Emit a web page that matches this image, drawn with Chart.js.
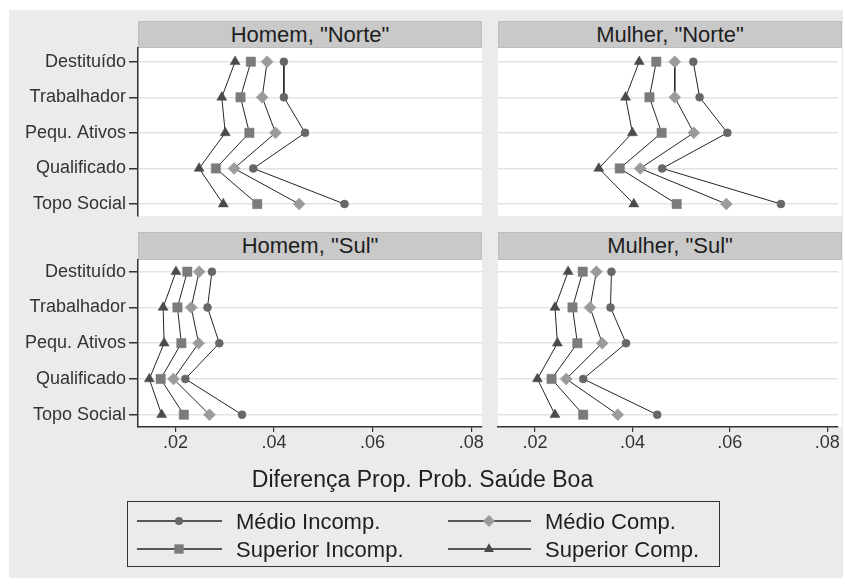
<!DOCTYPE html>
<html>
<head>
<meta charset="utf-8">
<script src="https://cdn.jsdelivr.net/npm/chart.js@4/dist/chart.umd.min.js"></script>
<style>
  body { margin: 0; width: 845px; height: 585px; background: #fff; position: relative; overflow: hidden;
         font-family: 'Liberation Sans', Arial, sans-serif; color: #222; }
  .abs { position: absolute; }
  #page { left: 9px; top: 10px; width: 834px; height: 568px; background: #ebebeb; }
  .plot { background: #fff; }
  .strip { background: #c9c9c9; border: 1px solid #bdbdbd; box-sizing: border-box;
           font-size: 22px; text-align: center; line-height: 25px; color: #1e1e1e; }
  canvas.layer { position: absolute; left: 0; top: 0; }
  #xtitle { left: 0; width: 845px; top: 466px; text-align: center; font-size: 23px; color: #1e1e1e; }
  #legend { left: 127px; top: 501px; width: 593px; height: 66px; border: 1px solid #333; box-sizing: border-box; }
  .lg { font-size: 22px; color: #1e1e1e; line-height: 26px; white-space: nowrap; }
</style>
</head>
<body>
<div id="page" class="abs"></div>

<div class="abs plot" style="left:138px;top:48px;width:344px;height:168px"></div>
<div class="abs plot" style="left:498px;top:48px;width:344px;height:168px"></div>
<div class="abs plot" style="left:138px;top:260px;width:344px;height:167px"></div>
<div class="abs plot" style="left:498px;top:260px;width:344px;height:167px"></div>

<div id="h0" class="abs strip" style="left:138px;top:21px;width:344px;height:27px"></div>
<div id="h1" class="abs strip" style="left:498px;top:21px;width:344px;height:27px"></div>
<div id="h2" class="abs strip" style="left:138px;top:232px;width:344px;height:28px"></div>
<div id="h3" class="abs strip" style="left:498px;top:232px;width:344px;height:28px"></div>

<canvas id="c0" class="layer" width="845" height="585"></canvas>
<canvas id="c1" class="layer" width="845" height="585"></canvas>
<canvas id="c2" class="layer" width="845" height="585"></canvas>
<canvas id="c3" class="layer" width="845" height="585"></canvas>

<div id="xtitle" class="abs">Diferença Prop. Prob. Saúde Boa</div>

<div id="legend" class="abs">
  <canvas id="lgc" width="593" height="66" style="position:absolute;left:-1px;top:-1px"></canvas>
  <span class="abs lg" id="lg0" style="left:108px;top:7px"></span>
  <span class="abs lg" id="lg1" style="left:417px;top:7px"></span>
  <span class="abs lg" id="lg2" style="left:108px;top:35px"></span>
  <span class="abs lg" id="lg3" style="left:417px;top:35px"></span>
</div>

<script>
const categories = ['Destituído', 'Trabalhador', 'Pequ. Ativos', 'Qualificado', 'Topo Social'];
const panelTitles = ['Homem, "Norte"', 'Mulher, "Norte"', 'Homem, "Sul"', 'Mulher, "Sul"'];
const seriesNames = ['Médio Incomp.', 'Médio Comp.', 'Superior Incomp.', 'Superior Comp.'];
const xTicks = [0.02, 0.04, 0.06, 0.08];

// Homem, "Norte"
const hnMedioIncomp    = [0.0420, 0.0420, 0.0463, 0.0358, 0.0543];
const hnMedioComp      = [0.0386, 0.0376, 0.0403, 0.0319, 0.0451];
const hnSuperiorIncomp = [0.0353, 0.0332, 0.0350, 0.0282, 0.0366];
const hnSuperiorComp   = [0.0321, 0.0294, 0.0301, 0.0248, 0.0297];
// Mulher, "Norte"
const mnMedioIncomp    = [0.0525, 0.0538, 0.0595, 0.0461, 0.0705];
const mnMedioComp      = [0.0487, 0.0487, 0.0526, 0.0416, 0.0593];
const mnSuperiorIncomp = [0.0449, 0.0435, 0.0460, 0.0374, 0.0491];
const mnSuperiorComp   = [0.0414, 0.0386, 0.0400, 0.0331, 0.0403];
// Homem, "Sul"
const hsMedioIncomp    = [0.0274, 0.0265, 0.0289, 0.0220, 0.0335];
const hsMedioComp      = [0.0248, 0.0232, 0.0247, 0.0196, 0.0269];
const hsSuperiorIncomp = [0.0224, 0.0204, 0.0212, 0.0170, 0.0217];
const hsSuperiorComp   = [0.0201, 0.0175, 0.0177, 0.0147, 0.0172];
// Mulher, "Sul"
const msMedioIncomp    = [0.0357, 0.0355, 0.0387, 0.0299, 0.0451];
const msMedioComp      = [0.0326, 0.0313, 0.0338, 0.0264, 0.0370];
const msSuperiorIncomp = [0.0298, 0.0277, 0.0287, 0.0234, 0.0299];
const msSuperiorComp   = [0.0268, 0.0241, 0.0246, 0.0205, 0.0241];

const panelSeries = [
  [hnMedioIncomp, hnMedioComp, hnSuperiorIncomp, hnSuperiorComp],
  [mnMedioIncomp, mnMedioComp, mnSuperiorIncomp, mnSuperiorComp],
  [hsMedioIncomp, hsMedioComp, hsSuperiorIncomp, hsSuperiorComp],
  [msMedioIncomp, msMedioComp, msSuperiorIncomp, msSuperiorComp],
];

const markers = [
  { style: 'circle',   radius: 4,   color: '#676767' },
  { style: 'rectRot',  radius: 6,   color: '#9b9b9b' },
  { style: 'rect',     radius: 6.6, color: '#7b7b7b' },
  { style: 'triangle', radius: 5.8, color: '#4a4a4a' },
];

const FONT = "'Liberation Sans', Arial, sans-serif";
const AXIS = '#333';
Chart.defaults.font.family = FONT;
Chart.defaults.color = AXIS;

// plot rectangles: left, top, right, bottom (page pixels)
const panels = [
  { left: 138, top: 48,  right: 482, bottom: 216, yLabels: true,  xAxis: false, ymin: -0.385, ymax: 4.337 },
  { left: 498, top: 48,  right: 842, bottom: 216, yLabels: false, xAxis: false, ymin: -0.385, ymax: 4.337 },
  { left: 138, top: 260, right: 482, bottom: 427, yLabels: true,  xAxis: true,  ymin: -0.327, ymax: 4.344 },
  { left: 498, top: 260, right: 842, bottom: 427, yLabels: false, xAxis: true,  ymin: -0.327, ymax: 4.344 },
];
const X_AXIS_H = 30;

panels.forEach((p, k) => {
  document.getElementById('h' + k).textContent = panelTitles[k];

  const datasets = panelSeries[k].map((vals, s) => ({
    label: seriesNames[s],
    data: vals.map((v, i) => ({ x: v, y: i })),
    showLine: true,
    borderColor: '#262626',
    borderWidth: 1,
    pointStyle: markers[s].style,
    pointRadius: markers[s].radius,
    pointBackgroundColor: markers[s].color,
    pointBorderColor: markers[s].color,
    pointBorderWidth: 0.5,
  }));

  new Chart(document.getElementById('c' + k), {
    type: 'scatter',
    data: { datasets },
    options: {
      responsive: false,
      animation: false,
      events: [],
      layout: {
        padding: {
          left: 0,
          top: p.top,
          right: 845 - p.right,
          bottom: p.xAxis ? 585 - p.bottom - X_AXIS_H : 585 - p.bottom,
        },
      },
      plugins: { legend: { display: false }, tooltip: { enabled: false } },
      scales: {
        x: {
          type: 'linear',
          display: p.xAxis,
          min: 0.0124,
          max: 0.0822,
          afterBuildTicks: s => { s.ticks = xTicks.map(v => ({ value: v })); },
          afterFit: s => {
            s.height = p.xAxis ? X_AXIS_H : 0;
            s.paddingLeft = 0;
            s.paddingRight = 0;
          },
          grid: { drawOnChartArea: false, tickLength: 5, tickColor: AXIS, lineWidth: 1.2 },
          border: { display: true, color: AXIS, width: 1.5 },
          ticks: {
            padding: 0,
            maxRotation: 0,
            font: { size: 18 },
            color: AXIS,
            callback: v => v.toFixed(2).replace(/^0/, ''),
          },
        },
        y: {
          type: 'linear',
          reverse: true,
          min: p.ymin,
          max: p.ymax,
          afterBuildTicks: s => { s.ticks = categories.map((c, i) => ({ value: i })); },
          afterFit: s => { s.width = p.left; s.paddingTop = 0; s.paddingBottom = 0; },
          grid: {
            color: '#e3e3e3',
            lineWidth: 1.5,
            drawTicks: p.yLabels,
            tickLength: 9,
            tickColor: AXIS,
          },
          border: { display: p.yLabels, color: AXIS, width: 1.5 },
          ticks: {
            display: p.yLabels,
            padding: 3,
            font: { size: 18 },
            color: AXIS,
            callback: v => categories[v],
          },
        },
      },
    },
  });
});

// legend keys: a line through each marker
function drawMarker(ctx, m, x, y) {
  const r = m.radius;
  ctx.fillStyle = m.color;
  ctx.beginPath();
  if (m.style === 'circle') {
    ctx.arc(x, y, r, 0, Math.PI * 2);
  } else if (m.style === 'rectRot') {
    ctx.moveTo(x - r, y); ctx.lineTo(x, y - r); ctx.lineTo(x + r, y); ctx.lineTo(x, y + r);
  } else if (m.style === 'rect') {
    const h = r * Math.SQRT1_2;
    ctx.rect(x - h, y - h, 2 * h, 2 * h);
  } else {
    for (let j = 0; j < 3; j++) {
      const a = j * 2 * Math.PI / 3;
      const px = x + Math.sin(a) * r, py = y - Math.cos(a) * r;
      j ? ctx.lineTo(px, py) : ctx.moveTo(px, py);
    }
  }
  ctx.closePath();
  ctx.fill();
}

const lg = document.getElementById('lgc').getContext('2d');
const keyCols = [{ x0: 10, x1: 95, mx: 52 }, { x0: 321, x1: 404, mx: 362 }];
const keyRows = [20, 48];
seriesNames.forEach((name, s) => {
  const col = keyCols[s % 2], row = keyRows[Math.floor(s / 2)];
  document.getElementById('lg' + s).textContent = name;
  lg.strokeStyle = '#262626';
  lg.lineWidth = 1.5;
  lg.beginPath();
  lg.moveTo(col.x0, row);
  lg.lineTo(col.x1, row);
  lg.stroke();
  drawMarker(lg, markers[s], col.mx, row);
});
</script>
</body>
</html>
